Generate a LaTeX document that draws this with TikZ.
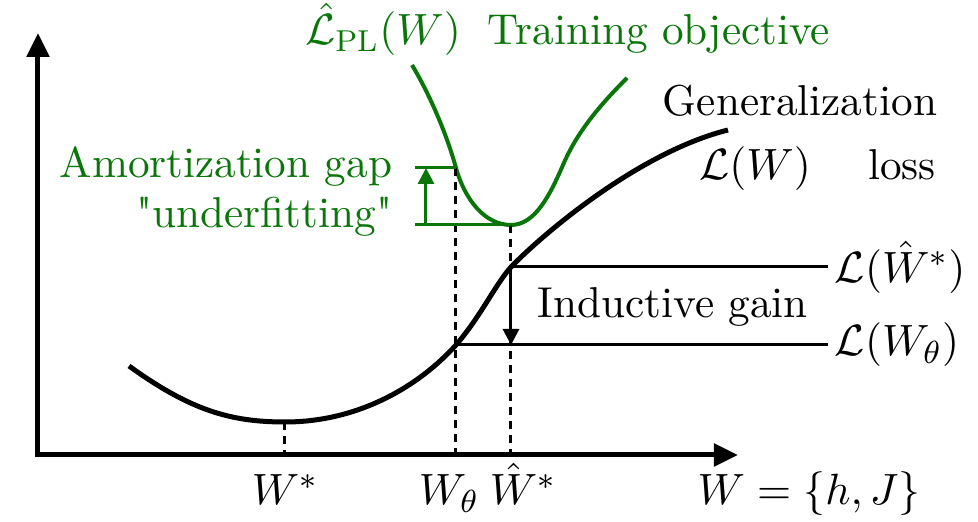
\documentclass[tikz,border=0pt]{standalone}
\usepackage{amsmath}
\usepackage{fontspec}
\setmainfont{Latin Modern Roman}[Ligatures=TeXOff]
\usetikzlibrary{arrows.meta}
\definecolor{ink}{HTML}{000000}
\definecolor{objgreen}{HTML}{0A760A}
\tikzset{
 axes/.style={{Triangle[length=6pt,width=5.5pt]}-{Triangle[length=6pt,width=5.5pt]},draw=ink,line width=1.25pt},
 losscurve/.style={draw=ink,line width=1.25pt},
 objcurve/.style={draw=objgreen,line width=1pt},
 level/.style={draw=ink,line width=0.75pt},
 marker/.style={draw=ink,line width=0.75pt,dash pattern=on 2pt off 1.5pt},
 gap/.style={-{Triangle[length=4pt,width=4pt]}},
 lbl/.style={inner sep=0pt,text=ink}
}

\begin{document}
\begin{tikzpicture}[x=0.25pt,y=-0.25pt,font=\fontsize{10.8}{13}\selectfont]
  \useasboundingbox (0,0) rectangle (978,522);

  % axes
  \coordinate (origin) at (38,455);
  \coordinate (ytop) at (38,33);
  \coordinate (xend) at (738,455);
  \draw[axes] (ytop) -- (origin) -- (xend);

  % points on the curves
  \coordinate (wstar) at (285,422);
  \coordinate (wtheta) at (456,345);
  \coordinate (whatstar) at (511,267);
  \coordinate (gtop) at (456,168);
  \coordinate (gmin) at (511,225);

  % generalization loss
  \draw[losscurve] (129,366) .. controls (190,410) and (230,422) .. (wstar)
    .. controls (360,422) and (420,385) .. (wtheta)
    .. controls (481,316) and (495,285) .. (whatstar)
    .. controls (545,232) and (640,152) .. (728,130);

  % training objective
  \draw[objcurve] (412,65) .. controls (430,95) and (447,135) .. (gtop)
    .. controls (465,200) and (485,225) .. (gmin)
    .. controls (535,225) and (550,195) .. (563,165)
    .. controls (577,132) and (600,105) .. (627,78);

  \draw[marker] (wstar) -- (wstar |- origin);
  \draw[marker] (gtop) -- (gtop |- origin);
  \draw[marker] (gmin) -- (gmin |- origin);

  \node[lbl,anchor=west] (lhat) at (834,267) {$\mathcal{L}(\hat{W}^*)$};
  \node[lbl,anchor=west] (ltheta) at (834,345) {$\mathcal{L}(W_\theta)$};
  \draw[level,shorten >=1.5pt] (whatstar) -- (lhat.west);
  \draw[level,shorten >=1.5pt] (wtheta) -- (ltheta.west);
  \draw[level,gap] (whatstar) -- (whatstar |- wtheta);
  \node[lbl,anchor=base west] (gain) at (537,318) {Inductive gain};

  % amortization gap
  \coordinate (gaphi) at (415,168);
  \coordinate (gaplo) at (415,225);
  \coordinate (arrowlo) at (426,225);
  \coordinate (arrowhi) at (426,168);
  \draw[level,draw=objgreen] (gaphi) -- (gtop);
  \draw[level,draw=objgreen] (gaplo) -- (gmin);
  \draw[level,draw=objgreen,gap] (arrowlo) -- (arrowhi);
  \node[lbl,anchor=base east,text=objgreen] (amort) at (393,178) {Amortization gap};
  \node[lbl,anchor=base east,text=objgreen] (underfit) at (393,228) {"underfitting"};

  \node[lbl,anchor=base,text=objgreen] (plname) at (383,45) {$\hat{\mathcal{L}}_{\mathrm{PL}}(W)$};
  \node[lbl,anchor=base,text=objgreen] (plobj) at (659,45) {Training objective};
  \node[lbl,anchor=base] (genname) at (800,116) {Generalization};
  \node[lbl,anchor=base] (genloss) at (755,180) {$\mathcal{L}(W)$};
  \node[lbl,anchor=base] (lossword) at (902,180) {loss};

  \node[lbl,anchor=base] (xstar) at (285,505) {$W^*$};
  \node[lbl,anchor=base] (xtheta) at (449,505) {$W_\theta$};
  \node[lbl,anchor=base] (xhat) at (523,505) {$\hat{W}^*$};
  \node[lbl,anchor=base] (xname) at (809,505) {$W=\{h,J\}$};
\end{tikzpicture}
\end{document}
